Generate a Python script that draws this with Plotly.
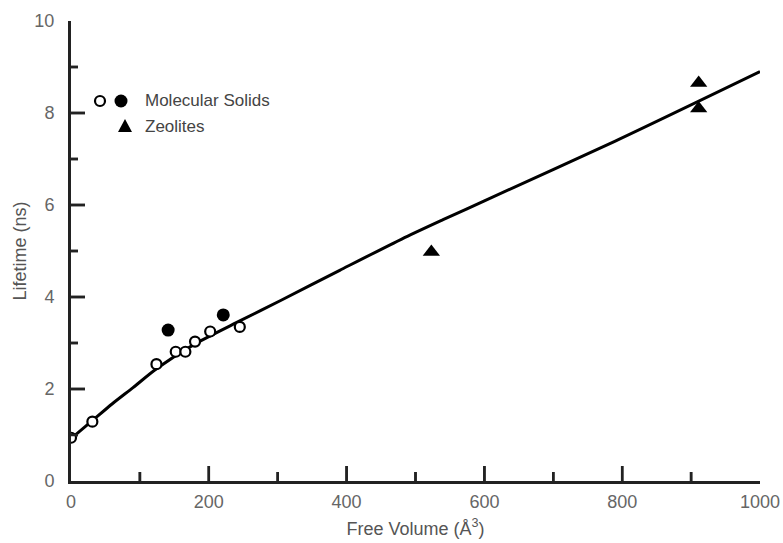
import plotly.graph_objects as go

# ---- data ----
mol_open_x = [0, 31, 124, 152, 166, 180, 202, 245]
mol_open_y = [0.94, 1.29, 2.54, 2.81, 2.81, 3.03, 3.25, 3.35]
mol_fill_x = [141, 221]
mol_fill_y = [3.28, 3.61]
zeo_x = [523, 911, 911]
zeo_y = [4.98, 8.65, 8.10]
fit_x = [0, 30, 60, 90, 125, 180, 245, 305, 390, 480, 540, 600, 790, 1000]
fit_y = [0.92, 1.30, 1.68, 2.03, 2.45, 2.98, 3.48, 3.93, 4.58, 5.26, 5.68, 6.09, 7.39, 8.90]
x_major_ticks = [0, 200, 400, 600, 800, 1000]
x_minor_ticks = [100, 300, 500, 700, 900]
y_major_ticks = [0, 2, 4, 6, 8, 10]
y_minor_ticks = [1, 3, 5, 7, 9]
legend_labels = ["Molecular Solids", "Zeolites"]

FONT = "Liberation Sans, Arial, sans-serif"
AXC = "#222222"
W, H = 783, 543
L, R, T, B = 71, 23, 21, 62
PW, PH = W - L - R, H - T - B
XR, YR = (0, 1000), (0, 10)
XU = (XR[1] - XR[0]) / PW   # data units per pixel
YU = (YR[1] - YR[0]) / PH


def px_to_paper(px, py):
    return (px - L) / PW, (H - B - py) / PH


fig = go.Figure()

# ---- inside tick marks as a line trace (lengths given in pixels) ----
tick_x_list = [(v, 15) for v in x_major_ticks[1:-1]] + [(v, 9) for v in x_minor_ticks]
tick_y_list = [(v, 14) for v in y_major_ticks[1:-1]] + [(v, 7) for v in y_minor_ticks]
tx_x, tx_y = [], []
for v, ln in tick_x_list:
    tx_x += [v, v, None]
    tx_y += [YR[0], YR[0] + ln * YU, None]
for v, ln in tick_y_list:
    tx_x += [XR[0], XR[0] + ln * XU, None]
    tx_y += [v, v, None]
fig.add_trace(go.Scatter(x=tx_x, y=tx_y, mode="lines", line=dict(color=AXC, width=2.5),
                         showlegend=False, hoverinfo="skip", connectgaps=False))

fig.add_trace(go.Scatter(x=fit_x, y=fit_y, mode="lines",
                         line=dict(color="black", width=3, shape="spline", smoothing=0.7),
                         showlegend=False, hoverinfo="skip"))
fig.add_trace(go.Scatter(x=mol_open_x, y=mol_open_y, mode="markers",
                         marker=dict(symbol="circle", size=10, color="white",
                                     line=dict(color="black", width=2.2)),
                         showlegend=False))
fig.add_trace(go.Scatter(x=mol_fill_x, y=mol_fill_y, mode="markers",
                         marker=dict(symbol="circle", size=13, color="black",
                                     line=dict(width=0)),
                         showlegend=False))
fig.add_trace(go.Scatter(x=zeo_x, y=zeo_y, mode="markers",
                         marker=dict(symbol="triangle-up", size=15, color="black",
                                     line=dict(width=0)),
                         showlegend=False))

shapes = []
# ---- major ticks again as data-referenced shapes (drawn above the traces) ----
for v, ln in tick_x_list:
    shapes.append(dict(type="line", xref="x", yref="y", x0=v, x1=v, y0=YR[0], y1=YR[0] + ln * YU,
                       layer="above", line=dict(color=AXC, width=2.5)))
for v, ln in tick_y_list:
    shapes.append(dict(type="line", xref="x", yref="y", y0=v, y1=v, x0=XR[0], x1=XR[0] + ln * XU,
                       layer="above", line=dict(color=AXC, width=2.5)))

# ---- hand-drawn legend ----
ax, ay = px_to_paper(100, 101)
shapes.append(dict(type="circle", xref="paper", yref="paper", xsizemode="pixel", ysizemode="pixel",
                   xanchor=ax, yanchor=ay, x0=-5, x1=5, y0=-5, y1=5,
                   line=dict(color="black", width=2.2), fillcolor="white"))
bx, by = px_to_paper(121, 101)
shapes.append(dict(type="circle", xref="paper", yref="paper", xsizemode="pixel", ysizemode="pixel",
                   xanchor=bx, yanchor=by, x0=-6.5, x1=6.5, y0=-6.5, y1=6.5,
                   line=dict(color="black", width=0), fillcolor="black"))
tx, ty = px_to_paper(125, 126)
shapes.append(dict(type="path", xref="paper", yref="paper", xsizemode="pixel", ysizemode="pixel",
                   xanchor=tx, yanchor=ty, path="M -7,-6 L 7,-6 L 0,7 Z",
                   line=dict(color="black", width=0), fillcolor="black"))

annotations = []
for lab, (lx, ly) in zip(legend_labels, [(143, 100), (143, 126)]):
    px_, py_ = px_to_paper(lx, ly)
    annotations.append(dict(x=px_, y=py_, xref="paper", yref="paper", text=lab, showarrow=False,
                            xanchor="left", yanchor="middle",
                            font=dict(family=FONT, size=17, color="#444")))

fig.update_layout(
    template="none",
    width=W, height=H,
    margin=dict(l=L, r=R, t=T, b=B, pad=0),
    paper_bgcolor="white", plot_bgcolor="white",
    font=dict(family=FONT, color="#555"),
    shapes=shapes, annotations=annotations,
    showlegend=False,
)
fig.update_xaxes(range=list(XR), showgrid=False, zeroline=False, automargin=False,
                 showline=True, linecolor=AXC, linewidth=3,
                 ticks="outside", ticklen=2, tickcolor="rgba(0,0,0,0)",
                 tickmode="array", tickvals=x_major_ticks,
                 tickfont=dict(family=FONT, size=18, color="#666"),
                 title=dict(text="Free Volume (Å<sup>3</sup>)", standoff=12,
                            font=dict(family=FONT, size=18, color="#555")))
fig.update_yaxes(range=list(YR), showgrid=False, zeroline=False, automargin=False,
                 showline=True, linecolor=AXC, linewidth=3,
                 ticks="outside", ticklen=10, tickcolor="rgba(0,0,0,0)",
                 tickmode="array", tickvals=y_major_ticks,
                 tickfont=dict(family=FONT, size=18, color="#666"),
                 title=dict(text="Lifetime (ns)", standoff=4,
                            font=dict(family=FONT, size=18, color="#555")))

fig.write_html("out.html", config={"displayModeBar": False},
               post_script="document.body.style.margin='0px';document.body.style.overflow='hidden';")
